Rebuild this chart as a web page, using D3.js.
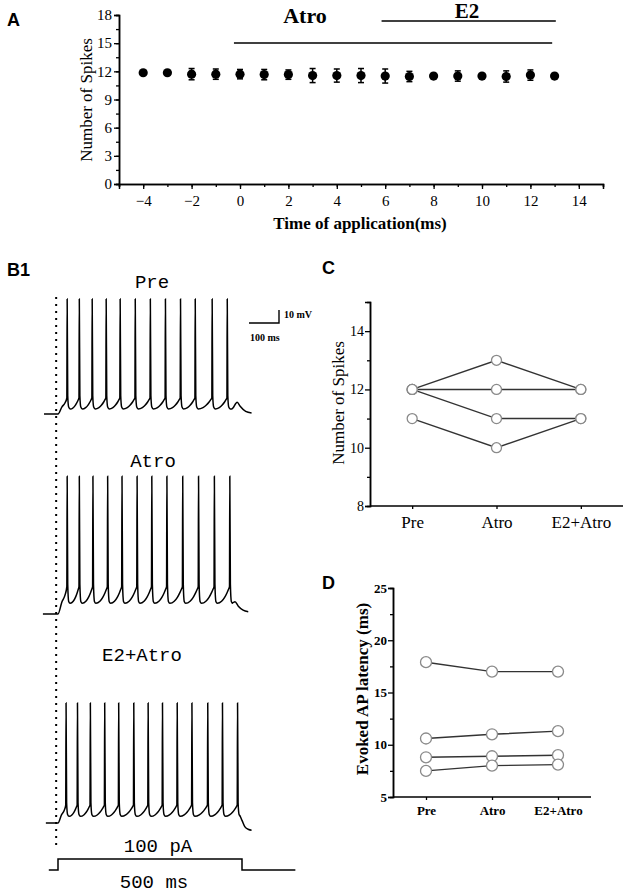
<!DOCTYPE html>
<html>
<head>
<meta charset="utf-8">
<script src="https://cdn.jsdelivr.net/npm/d3@7"></script>
<style>
body { margin: 0; background: #fff; }
svg { display: block; }
.serif { font-family: "Liberation Serif", "Times New Roman", serif; }
.mono { font-family: "Liberation Mono", monospace; }
.letter { font-family: "Liberation Sans", Arial, sans-serif; font-weight: bold; font-size: 18px; }
</style>
</head>
<body>
<div id="fig"></div>
<script>
//Data
// panel A: spikes over time of application
const timeA = [-4, -3, -2, -1, 0, 1, 2, 3, 4, 5, 6, 7, 8, 9, 10, 11, 12, 13];
const spikesA = [11.85, 11.85, 11.7, 11.7, 11.7, 11.65, 11.65, 11.55, 11.55, 11.55, 11.5, 11.45, 11.5, 11.5, 11.5, 11.45, 11.6, 11.5];
const semA = [0, 0, 0.6, 0.55, 0.5, 0.55, 0.5, 0.75, 0.7, 0.75, 0.75, 0.55, 0, 0.55, 0, 0.6, 0.55, 0];
const ticksAx = [-4, -2, 0, 2, 4, 6, 8, 10, 12, 14];
const ticksAy = [0, 3, 6, 9, 12, 15, 18];
const drugBars = [{ label: 'Atro', from: -0.25, to: 12.9, level: 0 }, { label: 'E2', from: 5.85, to: 13.05, level: 1 }];

// panels C and D: paired cells
const conditions = ['Pre', 'Atro', 'E2+Atro'];
const spikesC = [[12, 13, 12], [12, 12, 12], [12, 11, 11], [11, 10, 11]];
const latencyD = [[17.9, 17.0, 17.0], [10.6, 11.0, 11.3], [8.8, 8.9, 9.0], [7.5, 8.0, 8.1]];

// panel B1: spike times (ms after step onset)
const spikeTimesPre = [24, 57, 92, 130, 168, 209, 250, 291, 332, 372, 418, 459];
const spikeTimesAtro = [24, 57, 94, 134, 173, 214, 254, 295, 338, 381, 424, 466];
const spikeTimesE2 = [21, 52, 87, 126, 164, 205, 244, 283, 323, 363, 406, 446, 487];
// levels in mV above rest: trough, spike take-off, peak
const levelsPre = [3.8, 12.3, 88.5];
const levelsAtro = [8.2, 21, 106];
const levelsE2 = [5.1, 13.8, 92.3];
// end of each trace after last spike [ms, mV]
const tailPre = [[472, 3.8], [487, 9], [495, 6], [510, 2], [526, 0.8]];
const tailAtro = [[472, 8.2], [481, 9.5], [490, 6], [503, 3], [517, 1.8]];
const tailE2 = [[493, 6], [500, 2], [508, -3], [518, -5], [526, -5.5]];
// current step [ms, pA]
const stepCurrent = [[-25, 0], [0, 0], [0, 100], [500, 100], [500, 0], [645, 0]];

const W = 624, H = 891;
const svg = d3.select('#fig').append('svg').attr('width', W).attr('height', H);

function axisStyle(g) {
    g.select('.domain').attr('stroke', '#000').attr('stroke-width', 1.5);
    g.selectAll('.tick line').attr('stroke', '#000').attr('stroke-width', 1.3);
    g.selectAll('.tick text').attr('fill', '#000');
}
function tickFont(size, weight) {
    return g => g.selectAll('.tick text')
        .style('font-family', '"Liberation Serif", serif')
        .style('font-size', size + 'px')
        .style('font-weight', weight || 'normal');
}

//------- Panel A -------
const xA = d3.scaleLinear().domain([-5, 15]).range([119, 603]);
const yA = d3.scaleLinear().domain([0, 18]).range([184, 15]);

svg.append('text').attr('class', 'letter').attr('x', 7).attr('y', 26).text('A');

svg.append('g').attr('transform', 'translate(0,184)')
    .call(d3.axisBottom(xA).tickValues(d3.range(-5, 16, 1)).tickSize(3).tickFormat(''))
    .call(axisStyle);
svg.append('g').attr('transform', 'translate(0,184)')
    .call(d3.axisBottom(xA).tickValues(ticksAx).tickSize(5).tickPadding(6).tickFormat(d3.format('d')))
    .call(axisStyle)
    .call(tickFont(15));

svg.append('g').attr('transform', 'translate(119,0)')
    .call(d3.axisLeft(yA).tickValues(d3.range(0, 18.1, 1.5)).tickSize(3).tickFormat(''))
    .call(axisStyle);
svg.append('g').attr('transform', 'translate(119,0)')
    .call(d3.axisLeft(yA).tickValues(ticksAy).tickSize(5).tickPadding(2).tickFormat(d3.format('d')))
    .call(axisStyle)
    .call(tickFont(15));

svg.append('text').attr('class', 'serif').attr('font-size', 17)
    .attr('transform', 'translate(86,100) rotate(-90)').attr('dy', '0.35em')
    .attr('text-anchor', 'middle').text('Number of Spikes');
svg.append('text').attr('class', 'serif').attr('font-size', 17).attr('font-weight', 'bold')
    .attr('x', 360).attr('y', 229).attr('text-anchor', 'middle').text('Time of application(ms)');

// drug bars
const barY = [43, 21];
drugBars.forEach(b => {
    svg.append('line').attr('x1', xA(b.from)).attr('x2', xA(b.to))
        .attr('y1', barY[b.level]).attr('y2', barY[b.level])
        .attr('stroke', '#000').attr('stroke-width', 1.6);
});
svg.append('text').attr('class', 'serif').attr('font-weight', 'bold').attr('font-size', 22)
    .attr('x', 305).attr('y', 23).attr('text-anchor', 'middle').text(drugBars[0].label);
svg.append('text').attr('class', 'serif').attr('font-weight', 'bold').attr('font-size', 21)
    .attr('x', 467).attr('y', 18).attr('text-anchor', 'middle').text(drugBars[1].label);

const ptsA = timeA.map((t, i) => ({ t: t, m: spikesA[i], e: semA[i] }));
const errA = svg.append('g').selectAll('g').data(ptsA.filter(d => d.e > 0)).enter().append('g')
    .attr('stroke', '#000').attr('stroke-width', 1.5);
errA.append('line').attr('x1', d => xA(d.t)).attr('x2', d => xA(d.t))
    .attr('y1', d => yA(d.m - d.e)).attr('y2', d => yA(d.m + d.e));
errA.append('line').attr('x1', d => xA(d.t) - 3).attr('x2', d => xA(d.t) + 3)
    .attr('y1', d => yA(d.m - d.e)).attr('y2', d => yA(d.m - d.e));
errA.append('line').attr('x1', d => xA(d.t) - 3).attr('x2', d => xA(d.t) + 3)
    .attr('y1', d => yA(d.m + d.e)).attr('y2', d => yA(d.m + d.e));
svg.append('g').selectAll('circle').data(ptsA).enter().append('circle')
    .attr('cx', d => xA(d.t)).attr('cy', d => yA(d.m)).attr('r', 4.6).attr('fill', '#000');

//------- Panels C, D -------
function pairedPanel(opt) {
    const x = d3.scalePoint().domain(conditions).range(opt.xr).padding(0.5);
    const y = d3.scaleLinear().domain(opt.yd).range(opt.yr);
    const bold = opt.bold ? 'bold' : 'normal';

    const xAxisG = svg.append('g').attr('transform', `translate(0,${opt.yr[0]})`)
        .call(d3.axisBottom(x).tickSize(3).tickPadding(opt.xPad))
        .call(axisStyle)
        .call(tickFont(opt.xFont, bold));
    xAxisG.select('.domain').attr('d', `M${opt.xr[0]},0H${opt.xr[1]}`);

    svg.append('g').attr('transform', `translate(${opt.xr[0]},0)`)
        .call(d3.axisLeft(y).tickValues(opt.minor).tickSize(3).tickFormat(''))
        .call(axisStyle);
    svg.append('g').attr('transform', `translate(${opt.xr[0]},0)`)
        .call(d3.axisLeft(y).tickValues(opt.major).tickSize(5).tickPadding(1).tickFormat(d3.format('d')))
        .call(axisStyle)
        .call(tickFont(opt.yFont, bold));

    svg.append('text').attr('class', 'serif').attr('font-size', 17).attr('font-weight', bold)
        .attr('transform', `translate(${opt.labelX},${opt.labelY}) rotate(-90)`).attr('dy', '0.35em')
        .attr('text-anchor', 'middle').text(opt.label);

    const line = d3.line().x((d, i) => x(conditions[i])).y(d => y(d));
    svg.append('g').selectAll('path').data(opt.data).enter().append('path')
        .attr('d', line).attr('fill', 'none').attr('stroke', '#333').attr('stroke-width', 1.4);
    const dots = opt.data.flatMap(row => row.map((v, i) => ({ c: conditions[i], v: v })));
    svg.append('g').selectAll('circle').data(dots).enter().append('circle')
        .attr('cx', d => x(d.c)).attr('cy', d => y(d.v)).attr('r', opt.r)
        .attr('fill', '#fff').attr('stroke', '#8a8a8a').attr('stroke-width', 1.3);
}

svg.append('text').attr('class', 'letter').attr('x', 322).attr('y', 274).text('C');
pairedPanel({
    xr: [370, 623], yd: [8, 15], yr: [506, 302],
    major: [8, 10, 12, 14], minor: [9, 11, 13],
    data: spikesC, label: 'Number of Spikes', labelX: 338, labelY: 403,
    xFont: 17, yFont: 14, xPad: 7, bold: false, r: 5
});

svg.append('text').attr('class', 'letter').attr('x', 322).attr('y', 589).text('D');
pairedPanel({
    xr: [393, 591], yd: [5, 25], yr: [797, 588],
    major: [5, 10, 15, 20, 25], minor: [7.5, 12.5, 17.5, 22.5],
    data: latencyD, label: 'Evoked AP latency (ms)', labelX: 362, labelY: 689,
    xFont: 13, yFont: 13, xPad: 6, bold: true, r: 5.5
});

//------- Panel B1 -------
svg.append('text').attr('class', 'letter').attr('x', 7).attr('y', 276).text('B1');

const xT = d3.scaleLinear().domain([0, 500]).range([58, 242]);
const yT = d3.scaleLinear().domain([0, 10]).range([0, -13]);   // mV above rest -> px offset

function tracePoints(spikes, lev, tail, start) {
    const [trough, knee, peak] = lev;
    const pts = [[start, 0], [0, 0], [spikes[0] * 0.45, knee * 0.45], [spikes[0] * 0.8, knee * 0.7]];
    spikes.forEach((s, i) => {
        pts.push([s, knee], [s + 0.9, peak], [s + 2.4, knee + 2], [s + 5, trough + 1.5], [s + 9, trough]);
        const n = spikes[i + 1];
        if (n !== undefined) {
            [0.35, 0.6, 0.8, 0.92].forEach(f => {
                pts.push([s + 9 + (n - s - 9) * f, trough + (knee - trough) * Math.pow(f, 2)]);
            });
        }
    });
    return pts.concat(tail);
}

const traces = [
    { name: 'Pre', base: 414, spikes: spikeTimesPre, lev: levelsPre, tail: tailPre, start: -38, lx: 152, ly: 288 },
    { name: 'Atro', base: 614, spikes: spikeTimesAtro, lev: levelsAtro, tail: tailAtro, start: -41, lx: 153, ly: 467 },
    { name: 'E2+Atro', base: 823, spikes: spikeTimesE2, lev: levelsE2, tail: tailE2, start: -33, lx: 142, ly: 661 }
];

const traceLine = d3.line().x(d => xT(d[0])).y(d => yT(d[1])).curve(d3.curveMonotoneX);
traces.forEach(tr => {
    svg.append('g').attr('transform', `translate(0,${tr.base})`)
        .append('path').attr('d', traceLine(tracePoints(tr.spikes, tr.lev, tr.tail, tr.start)))
        .attr('fill', 'none').attr('stroke', '#000').attr('stroke-width', 1.5);
    svg.append('text').attr('class', 'mono').attr('font-size', 19)
        .attr('x', tr.lx).attr('y', tr.ly).attr('text-anchor', 'middle').text(tr.name);
});

// stimulus onset marker
svg.append('line').attr('x1', xT(-5)).attr('x2', xT(-5)).attr('y1', 297).attr('y2', 848)
    .attr('stroke', '#000').attr('stroke-width', 2).attr('stroke-dasharray', '2,5');

// current step
const yI = d3.scaleLinear().domain([0, 100]).range([870, 859]);
svg.append('path')
    .attr('d', d3.line().x(d => xT(d[0])).y(d => yI(d[1]))(stepCurrent))
    .attr('fill', 'none').attr('stroke', '#000').attr('stroke-width', 1.5);
svg.append('text').attr('class', 'mono').attr('font-size', 19)
    .attr('x', 158).attr('y', 852).attr('text-anchor', 'middle').text('100 pA');
svg.append('text').attr('class', 'mono').attr('font-size', 19)
    .attr('x', 154).attr('y', 888).attr('text-anchor', 'middle').text('500 ms');

// scale bar
svg.append('path').attr('d', 'M249,323H279V310').attr('fill', 'none')
    .attr('stroke', '#000').attr('stroke-width', 1.4);
svg.append('text').attr('class', 'serif').attr('font-size', 10).attr('font-weight', 'bold')
    .attr('x', 284).attr('y', 318).text('10 mV');
svg.append('text').attr('class', 'serif').attr('font-size', 10).attr('font-weight', 'bold')
    .attr('x', 250).attr('y', 341).text('100 ms');
</script>
</body>
</html>
